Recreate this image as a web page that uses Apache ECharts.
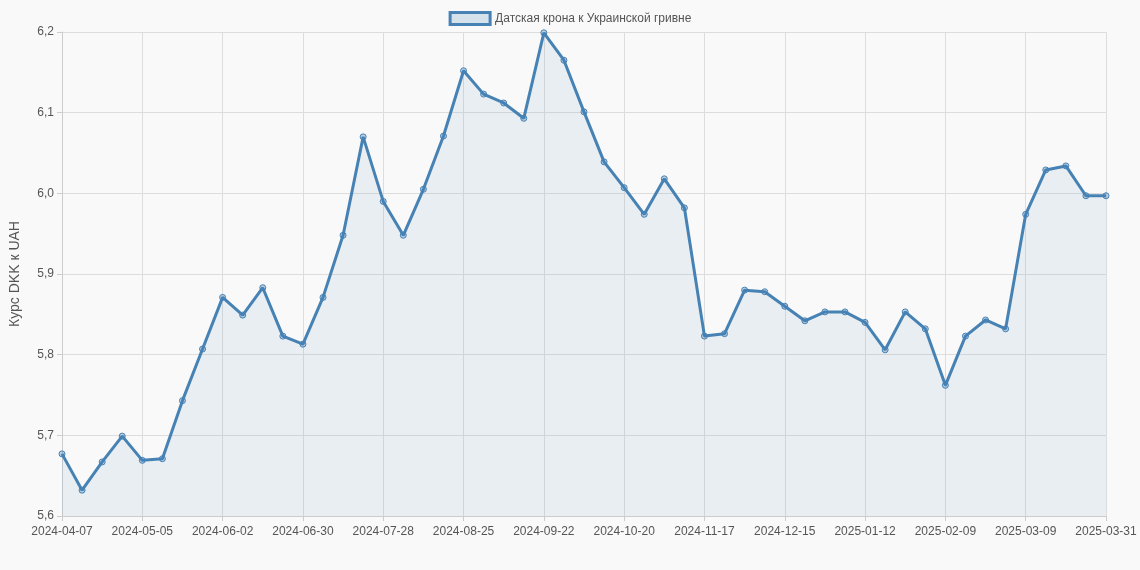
<!DOCTYPE html>
<html>
<head>
<meta charset="utf-8" />
<title>Датская крона к Украинской гривне</title>
<script src="https://cdn.jsdelivr.net/npm/echarts@6/dist/echarts.min.js"></script>
<style>
  html, body { margin: 0; padding: 0; background: #f9f9f9; }
</style>
</head>
<body>
<div id="grafico" style="width: 1140px; height: 570px"></div>
<script>
const seriesName = "Датская крона к Украинской гривне";
const yTicks = [5.6, 5.7, 5.8, 5.9, 6.0, 6.1, 6.2];
const valores = [
  5.677, 5.632, 5.667, 5.699, 5.669, 5.671, 5.743, 5.807, 5.871, 5.849,
  5.883, 5.823, 5.813, 5.871, 5.948, 6.070, 5.990, 5.948, 6.005, 6.071,
  6.152, 6.123, 6.112, 6.093, 6.199, 6.165, 6.101, 6.039, 6.007, 5.974,
  6.018, 5.982, 5.823, 5.826, 5.880, 5.878, 5.860, 5.842, 5.853, 5.853,
  5.840, 5.806, 5.853, 5.832, 5.762, 5.823, 5.843, 5.832, 5.974, 6.029,
  6.034, 5.997, 5.997
];

// weekly dates from 2024-04-07, the last one is 2025-03-31
const datas = [];
let d = new Date(Date.UTC(2024, 3, 7));
for (let i = 0; i < valores.length - 1; i++) {
  datas.push(d.toISOString().slice(0, 10));
  d = new Date(d.getTime() + 7 * 86400000);
}
datas.push("2025-03-31");

const chart = echarts.init(document.getElementById("grafico"));
chart.setOption({
  backgroundColor: "#f9f9f9",
  animation: false,
  legend: {
    top: 6,
    itemWidth: 40,
    itemHeight: 12,
    icon: "rect",
    textStyle: { fontSize: 12, color: "#555", fontFamily: "Liberation Sans, Arial" },
    data: [{ name: seriesName, itemStyle: { color: "rgba(70,130,180,0.2)", borderColor: "#4682b4", borderWidth: 3 } }]
  },
  grid: { left: 55, right: 34, top: 32, bottom: 54 },
  xAxis: {
    type: "category",
    data: datas,
    boundaryGap: false,
    axisLine: { lineStyle: { color: "#ccc" } },
    axisTick: { show: true, interval: 3, lineStyle: { color: "#ccc" } },
    axisLabel: { interval: 3, color: "#555", fontSize: 12, fontFamily: "Liberation Sans, Arial", margin: 10 },
    splitLine: { show: true, interval: 3, lineStyle: { color: "#ddd" } }
  },
  yAxis: {
    type: "value",
    min: 5.6,
    max: 6.2,
    interval: 0.1,
    name: "Курс DKK к UAH",
    nameLocation: "middle",
    nameGap: 40,
    nameTextStyle: { color: "#555", fontSize: 14, fontFamily: "Liberation Sans, Arial" },
    axisLine: { show: true, lineStyle: { color: "#ccc" } },
    axisTick: { show: true, lineStyle: { color: "#ccc" } },
    axisLabel: {
      color: "#555", fontSize: 12, fontFamily: "Liberation Sans, Arial",
      formatter: v => v.toFixed(1).replace(".", ",")
    },
    splitLine: { lineStyle: { color: "#ddd" } }
  },
  series: [{
    name: seriesName,
    type: "line",
    data: valores,
    symbol: "circle",
    symbolSize: 6,
    lineStyle: { color: "#4682b4", width: 3 },
    itemStyle: { color: "rgba(70,130,180,0.35)", borderColor: "#4682b4", borderWidth: 1 },
    areaStyle: { color: "rgba(70,130,180,0.12)" }
  }]
});
</script>
</body>
</html>
